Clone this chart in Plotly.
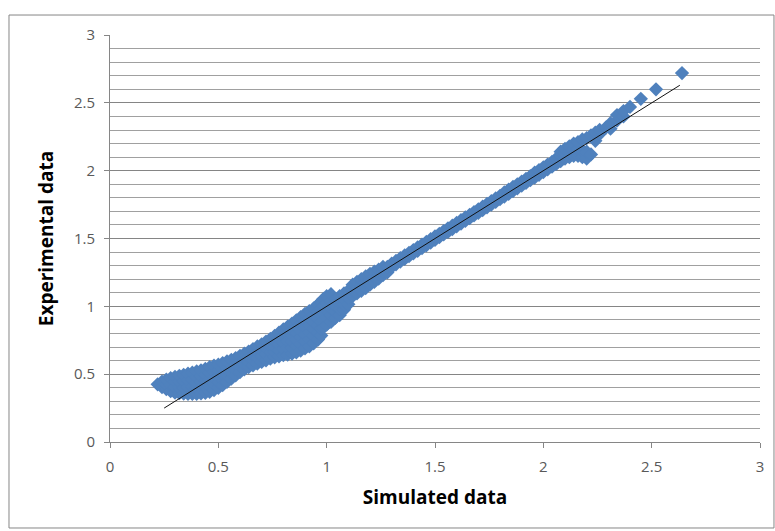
import plotly.graph_objects as go

# ---- data ----
# lower, wide part of the cloud: one x column -> its y values
low_x = [0.22, 0.24, 0.26, 0.28, 0.30, 0.32, 0.34, 0.36, 0.38, 0.40,
         0.42, 0.44, 0.46, 0.48, 0.50, 0.52, 0.54, 0.56, 0.58, 0.60,
         0.62, 0.64, 0.66, 0.68, 0.70, 0.72, 0.74, 0.76, 0.78, 0.80,
         0.82, 0.84, 0.86, 0.88, 0.90, 0.92, 0.94, 0.96, 0.975, 0.985,
         1.00, 1.02, 1.04, 1.06, 1.08, 1.10]
low_y = [[0.425], [0.405, 0.445], [0.39, 0.425, 0.46], [0.375, 0.42, 0.47],
         [0.365, 0.405, 0.445, 0.48], [0.36, 0.403, 0.446, 0.488],
         [0.357, 0.40, 0.448, 0.495], [0.355, 0.405, 0.455, 0.503],
         [0.355, 0.407, 0.459, 0.511], [0.355, 0.396, 0.438, 0.479, 0.52],
         [0.358, 0.40, 0.443, 0.486, 0.528], [0.363, 0.407, 0.451, 0.495, 0.539],
         [0.37, 0.415, 0.46, 0.506, 0.551], [0.383, 0.428, 0.473, 0.518, 0.562],
         [0.40, 0.442, 0.485, 0.528, 0.57], [0.42, 0.461, 0.501, 0.542, 0.582],
         [0.443, 0.493, 0.544, 0.594], [0.467, 0.513, 0.56, 0.606],
         [0.491, 0.534, 0.576, 0.619], [0.515, 0.555, 0.595, 0.635],
         [0.535, 0.574, 0.612, 0.651], [0.552, 0.59, 0.629, 0.667],
         [0.566, 0.606, 0.645, 0.685], [0.578, 0.62, 0.662, 0.704],
         [0.59, 0.633, 0.677, 0.72], [0.602, 0.648, 0.694, 0.74],
         [0.614, 0.663, 0.711, 0.76], [0.624, 0.663, 0.703, 0.742, 0.782],
         [0.632, 0.676, 0.719, 0.763, 0.806], [0.64, 0.688, 0.735, 0.783, 0.83],
         [0.644, 0.696, 0.747, 0.799, 0.85],
         [0.651, 0.695, 0.74, 0.784, 0.829, 0.873],
         [0.661, 0.708, 0.755, 0.803, 0.85, 0.897],
         [0.674, 0.723, 0.773, 0.822, 0.872, 0.921],
         [0.69, 0.741, 0.792, 0.843, 0.894, 0.945],
         [0.706, 0.758, 0.81, 0.861, 0.913, 0.965],
         [0.728, 0.779, 0.831, 0.882, 0.934, 0.985],
         [0.755, 0.807, 0.858, 0.91, 0.961, 1.013],
         [0.785, 0.835, 0.885, 0.935, 0.985, 1.035],
         [0.845, 0.897, 0.95, 1.003, 1.055],
         [0.865, 0.918, 0.97, 1.023, 1.075],
         [0.885, 0.936, 0.988, 1.039, 1.09],
         [0.915, 0.962, 1.008, 1.055], [0.935, 0.982, 1.028, 1.075],
         [0.975, 1.015, 1.055, 1.095], [1.015, 1.065, 1.115]]

# upper, narrow part of the cloud and the last scattered points
up_x = [1.12, 1.14, 1.16, 1.18, 1.20, 1.22, 1.24, 1.26, 1.28, 1.30,
        1.32, 1.34, 1.36, 1.38, 1.40, 1.42, 1.44, 1.46, 1.48, 1.50,
        1.52, 1.54, 1.56, 1.58, 1.60, 1.62, 1.64, 1.66, 1.68, 1.70,
        1.72, 1.74, 1.76, 1.78, 1.80, 1.82, 1.84, 1.86, 1.88, 1.90,
        1.92, 1.94, 1.96, 1.98, 2.00, 2.02, 2.04, 2.06, 2.08, 2.10,
        2.12, 2.14, 2.16, 2.18, 2.20, 2.22, 2.24, 2.26, 2.29, 2.31,
        2.34, 2.37, 2.40, 2.45, 2.52, 2.64]
up_y = [[1.075, 1.12, 1.16], [1.095, 1.14, 1.18], [1.115, 1.16, 1.20],
        [1.135, 1.18, 1.22], [1.16, 1.20, 1.24], [1.18, 1.22, 1.255],
        [1.205, 1.24, 1.27], [1.23, 1.26, 1.29], [1.25, 1.29], [1.29, 1.315],
        [1.31, 1.335], [1.33, 1.355], [1.35, 1.375], [1.37, 1.395],
        [1.39, 1.415], [1.41, 1.435], [1.43, 1.455], [1.45, 1.475],
        [1.47, 1.495], [1.49, 1.515], [1.51, 1.535], [1.53, 1.555],
        [1.55, 1.575], [1.57, 1.595], [1.59, 1.615], [1.61, 1.635],
        [1.63, 1.655], [1.65, 1.675], [1.67, 1.695], [1.69, 1.715],
        [1.71, 1.735], [1.73, 1.755], [1.75, 1.775], [1.77, 1.795],
        [1.79, 1.815], [1.81, 1.84], [1.83, 1.86], [1.85, 1.88],
        [1.87, 1.90], [1.89, 1.92], [1.91, 1.94], [1.93, 1.96],
        [1.95, 1.985], [1.97, 2.005], [1.99, 2.025], [2.01, 2.045],
        [2.03, 2.065], [2.05, 2.09], [2.07, 2.11, 2.14], [2.09, 2.13, 2.16],
        [2.10, 2.14, 2.18], [2.11, 2.16, 2.20], [2.11, 2.16, 2.21],
        [2.10, 2.15, 2.23], [2.09, 2.14, 2.24], [2.12, 2.26], [2.22, 2.28],
        [2.27, 2.30], [2.32], [2.31, 2.35], [2.37, 2.41], [2.40, 2.44],
        [2.47], [2.53], [2.60], [2.72]]

trend_x = [0.25, 2.63]
trend_y = [0.25, 2.63]

x_ticks = [0, 0.5, 1, 1.5, 2, 2.5, 3]
y_ticks = [0, 0.5, 1, 1.5, 2, 2.5, 3]

# ---- flatten columns into point lists ----
sim, exp_ = [], []
for xs, ys in ((low_x, low_y), (up_x, up_y)):
    for xv, col in zip(xs, ys):
        for yv in col:
            sim.append(xv)
            exp_.append(yv)

FONT = "Open Sans"
fig = go.Figure()
fig.add_trace(go.Scatter(
    x=sim, y=exp_, mode="markers",
    marker=dict(symbol="diamond", size=11, color="#4F81BD",
                line=dict(width=0)),
    showlegend=False, hoverinfo="x+y"))
fig.add_trace(go.Scatter(
    x=trend_x, y=trend_y, mode="lines",
    line=dict(color="#111111", width=1), showlegend=False))

fig.update_layout(
    width=775, height=531,
    margin=dict(l=110, r=15, t=35, b=89),
    paper_bgcolor="white", plot_bgcolor="white",
    font=dict(family=FONT, color="#595959"),
    xaxis=dict(range=[0, 3], tickvals=x_ticks, ticktext=[str(v) for v in x_ticks],
               showgrid=False, zeroline=False, showline=True,
               linecolor="#868686", linewidth=1, ticks="outside", ticklen=5,
               tickcolor="#868686", tickfont=dict(size=15, color="#595959"),
               ticklabelstandoff=6,
               title=dict(text="<b>Simulated data</b>", standoff=15,
                          font=dict(size=19, color="#000000")),
               automargin=False),
    yaxis=dict(range=[0, 3.0005], tickvals=y_ticks, ticktext=[str(v) for v in y_ticks],
               showgrid=True, gridcolor="#858585", gridwidth=1,
               minor=dict(dtick=0.1, showgrid=True, gridcolor="#A0A0A0",
                          gridwidth=1, ticks=""),
               zeroline=False, showline=True, linecolor="#868686",
               linewidth=1, ticks="outside", ticklen=5, tickcolor="#868686",
               tickfont=dict(size=15, color="#595959"),
               ticklabelstandoff=6,
               title=dict(text="<b>Experimental data</b>", standoff=15,
                          font=dict(size=19, color="#000000")),
               automargin=False),
    shapes=[dict(type="rect", xref="paper", yref="paper",
                 x0=-0.1554, x1=1.0215, y0=-0.2113, y1=1.0491,
                 line=dict(color="#868686", width=1), layer="below")],
)

fig.write_html("out.html", config={"displayModeBar": False},
               post_script="document.body.style.margin='0';"
                           "document.body.style.overflow='hidden';")
